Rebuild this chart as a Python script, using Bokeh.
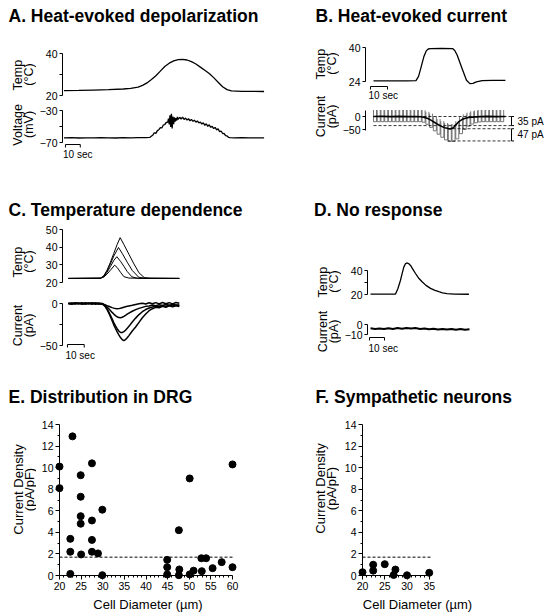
import math
from bokeh.plotting import figure
from bokeh.models import Range1d, LinearAxis, FixedTicker, Label, Grid
from bokeh.layouts import column, row
from bokeh.embed import file_html
from bokeh.resources import INLINE

FONT = "Liberation Sans"

# ---------------- data ----------------
# A. Heat-evoked depolarization (time in s)
a_temp_t = [0, 10, 20, 30, 40, 45, 50, 53, 56, 59, 62, 65, 68, 71, 74, 77, 80, 83, 86, 89,
            92, 95, 98, 101, 104, 107, 110, 113, 120, 135]
a_temp = [22.3, 22.4, 22.6, 22.8, 23.1, 23.4, 24.0, 24.8, 26.0, 27.6, 29.4, 31.6, 33.8, 35.4, 36.5,
          37.1, 37.2, 36.9, 36.1, 35.0, 33.5, 32.0, 30.5, 28.5, 26.3, 24.2, 22.8, 22.2, 22.0, 21.9]
a_volt_t = [0, 5, 10, 15, 20, 25, 30, 35, 40, 45, 50, 55, 58,
            60, 61, 62, 63, 64, 65, 66, 67, 68, 69, 70,
            70.5, 71, 71.5, 72, 72.5, 73, 73.5, 74, 74.5, 75, 75.5, 76, 76.5, 77,
            78, 79, 80, 81, 82, 83, 84, 85, 86, 87, 88, 89, 90, 91, 92, 93, 94, 95, 96, 97,
            98, 99, 100, 101, 102, 103, 104, 105, 106, 107, 108, 109, 110, 111, 112,
            115, 120, 125, 130, 135]
a_volt = [-64.3, -64.0, -64.4, -64.1, -64.3, -64.0, -64.2, -64.4, -63.9, -64.2, -64.0, -63.8, -63.5,
          -60.5, -57.8, -58.6, -55.2, -54.0, -51.5, -51.8, -48.2, -47.5, -45.0, -44.6,
          -40.2, -47.5, -36.0, -50.5, -34.0, -52.5, -37.5, -47.0, -38.5, -44.0, -39.5, -42.5, -38.0, -41.0,
          -38.5, -40.6, -38.4, -41.2, -39.5, -42.0, -40.3, -42.8, -41.2, -43.5, -42.2, -44.6, -43.0, -45.6,
          -44.4, -47.0, -45.3, -48.5, -46.6, -49.8, -47.9, -51.0, -49.8, -52.6, -51.2, -54.2, -52.8, -56.5,
          -55.6, -58.8, -58.6, -61.5, -61.8, -63.5, -63.9,
          -64.3, -64.0, -64.3, -64.1, -64.2]

# B. Heat-evoked current
b_temp_t = [0, 10, 20, 25, 26.5, 27.6, 29.6, 31.0, 32.2, 33.5, 40, 46.5, 47.8, 49.2, 52.2, 54.7,
            56.7, 58.5, 60.5, 63.9, 70, 77.6]
b_temp = [24.3, 24.3, 24.3, 24.4, 26.4, 29.6, 35.6, 38.4, 39.3, 39.5, 39.6, 39.5, 38.6, 36.5, 29.9,
          24.6, 23.0, 23.1, 23.8, 24.4, 24.5, 24.5]
b_cur_t = [0, 5, 10, 15, 20, 25, 28, 30, 32, 34, 36, 38, 40, 42, 44, 45.5, 47, 48.5, 50, 52, 54, 56,
           58, 60, 63, 67, 72, 77.6]
b_cur = [0, 0.5, -0.5, 0.4, -0.4, 0.2, -1, -3.5, -8, -15, -23, -31, -38, -43.5, -46.5, -47.5, -43,
         -32, -21, -12, -7, -4, -2.5, -1.5, -0.5, 0.4, -0.3, 0.2]
ramp_t = [0.0, 2.2, 4.4, 6.6, 8.8, 11.0, 13.2, 15.4, 17.6, 19.8, 22.0, 24.2, 26.4, 28.6, 30.8, 33.0,
          35.2, 37.4, 39.6, 41.8, 44.0, 46.2, 48.4, 50.6, 52.8, 55.0, 57.2, 59.4, 61.6, 63.8, 66.0,
          68.2, 70.4, 72.6, 74.8]
ramp_top = [25, 25, 25, 25, 25, 25, 25, 25, 25, 25, 25, 25, 25, 24, 18, 11, 0, -10, -18, -25, -30,
            -29, -18, -2, 8, 15, 20, 23, 25, 25, 25, 25, 25, 25, 25]
ramp_bot = [-20, -20, -20, -20, -20, -20, -20, -20, -20, -20, -20, -20, -20, -22, -30, -42, -55, -68,
            -80, -90, -96, -96, -86, -66, -50, -37, -29, -24, -21, -20, -20, -20, -20, -20, -20]
b_levels = [0, -35, -47, -94]
b_amp_labels = ["35 pA", "47 pA"]

# C. Temperature dependence
c_temp_t = [
    [0, 19, 21, 23, 25, 27.5, 29, 31, 33, 36, 50, 66],
    [0, 19, 21, 23, 25, 27, 28.8, 31, 33, 35, 37.8, 41, 66],
    [0, 19, 21, 23, 25, 27, 29.8, 32, 35, 38, 41.8, 45, 66],
    [0, 19, 21, 23, 25, 27, 29, 30.8, 33, 36, 39, 42, 45.1, 48, 66],
]
c_temp = [
    [22.3, 22.4, 23.0, 24.8, 27.0, 29.8, 28.5, 25.8, 23.3, 22.5, 22.3, 22.3],
    [22.3, 22.4, 23.3, 25.8, 29.0, 32.5, 34.6, 32.0, 29.2, 26.2, 23.2, 22.4, 22.3],
    [22.3, 22.4, 23.5, 26.5, 30.5, 35.0, 39.8, 36.5, 31.5, 26.8, 23.0, 22.4, 22.3],
    [22.3, 22.4, 23.7, 27.0, 31.5, 36.5, 41.5, 45.4, 41.5, 36.0, 30.5, 25.5, 22.8, 22.4, 22.3],
]
c_cur_t = [0, 2, 4, 6, 8, 10, 12, 14, 16, 18, 20, 21, 22, 23, 24, 25, 26, 27, 28, 29, 30, 31, 32,
           33, 34, 35, 36, 38, 40, 42, 44, 46, 48, 50, 52, 54, 56, 58, 60, 62, 64, 66]
c_cur = [
    [0.5, -0.8, 0.6, -0.4, 0.9, -0.6, 0.3, -0.9, 0.7, -0.5, 0.2, -0.8, -1.6, -2.5, -3.3, -4.2, -4.9,
     -5.5, -6.0, -6.3, -6.1, -5.6, -5.0, -4.4, -3.8, -3.3, -2.9, -2.2, -1.2, -0.4, 0.3, -0.6, 0.8,
     -0.3, 1.0, -0.5, 1.2, -0.2, 1.0, -0.4, 1.1, 0.2],
    [-0.3, 0.6, -0.7, 0.4, -0.5, 0.8, -0.4, 0.5, -0.8, 0.3, -0.6, -1.2, -2.5, -4.2, -6.2, -8.4, -10.6,
     -12.6, -14.4, -15.8, -16.8, -17.0, -16.4, -15.3, -14.0, -12.7, -11.4, -9.2, -7.3, -5.8, -4.6,
     -3.4, -3.0, -1.8, -2.6, -1.5, -2.4, -1.2, -2.2, -1.0, -2.0, -1.4],
    [0.2, -0.5, 0.8, -0.3, 0.4, -0.7, 0.6, -0.2, 0.5, -0.6, -0.3, -1.5, -3.5, -6.5, -10.0, -14.0,
     -18.3, -22.6, -26.6, -30.0, -32.8, -34.5, -34.6, -33.5, -31.8, -29.6, -27.2, -22.0, -17.4,
     -13.2, -9.8, -7.2, -5.4, -4.2, -3.0, -3.8, -2.4, -3.4, -2.0, -3.0, -1.8, -2.8],
    [-0.6, 0.3, -0.2, 0.7, -0.8, 0.4, -0.3, 0.8, -0.4, 0.6, -0.5, -1.8, -4.0, -7.2, -11.2, -15.8,
     -20.6, -25.4, -29.8, -33.8, -37.4, -40.6, -43.0, -44.2, -43.0, -40.8, -38.2, -32.8, -28.0,
     -22.5, -17.0, -12.5, -8.6, -6.2, -4.6, -5.2, -3.4, -4.4, -2.8, -4.0, -2.6, -3.6],
]

# D. No response
d_temp_t = [0, 10, 16.7, 18.3, 20, 21.2, 22.2, 23.2, 24.2, 25.4, 26.7, 28.3, 30, 32, 34.4, 37, 40,
            43, 45.6, 48, 51, 56, 65.6]
d_temp = [20.3, 20.3, 20.4, 25.0, 31.9, 38.0, 42.8, 45.5, 46.3, 45.8, 44.2, 41.0, 37.5, 33.8, 30.6,
          27.6, 25.1, 23.4, 22.3, 21.4, 20.7, 20.3, 20.2]
d_cur_t = [0, 3, 6, 9, 12, 15, 18, 21, 24, 27, 30, 33, 36, 39, 42, 45, 48, 51, 54, 57, 60, 63, 66]
d_cur = [-3.8, -4.5, -3.9, -4.6, -3.7, -4.4, -3.6, -4.3, -3.4, -4.1, -3.5, -4.4, -3.9, -4.8, -4.2,
         -5.0, -4.4, -5.1, -4.5, -5.2, -4.6, -5.3, -4.8]

# E. Distribution in DRG
e_diam = [20.0, 20.0, 22.5, 22.5, 22.5, 23.0, 24.9, 24.9, 24.9, 24.9, 25.0, 27.5, 27.5, 27.5, 27.5,
          28.9, 29.9, 29.9, 44.9, 44.9, 44.9, 47.6, 47.7, 47.6, 50.1, 50.1, 51.0, 52.8, 53.9, 52.9,
          55.4, 57.5, 60.0, 60.0]
e_dens = [10.1, 8.1, 3.4, 2.2, 0.15, 12.9, 9.3, 7.3, 5.5, 4.8, 1.95, 10.4, 5.1, 3.3, 2.2, 2.05,
          6.1, 0.03, 1.45, 0.77, 0.1, 4.2, 0.56, 0.03, 9.0, 0.1, 0.45, 1.6, 1.6, 0.4, 0.68, 1.24,
          10.3, 0.77]
# F. Sympathetic neurons
f_diam = [20.0, 22.4, 22.4, 25.0, 27.0, 27.4, 30.0, 35.0]
f_dens = [0.3, 1.0, 0.45, 1.05, 0.05, 0.55, 0.02, 0.25]
threshold = 1.7

e_xticks = [20, 25, 30, 35, 40, 45, 50, 55, 60]
f_xticks = [20, 25, 30, 35]
dens_ticks = [0, 2, 4, 6, 8, 10, 12, 14]
scale_len = 10  # seconds

# Helvetica/Arial advance widths (per 1000 em) used to centre the rotated labels
ADV = {" ": 278, "(": 333, ")": 333, "/": 278, "°": 400, "A": 667, "C": 722, "D": 722, "F": 611,
       "T": 611, "V": 667, "a": 556, "e": 556, "g": 556, "i": 222, "l": 222, "m": 833, "n": 556,
       "o": 556, "p": 556, "r": 333, "s": 500, "t": 278, "u": 556, "y": 500}


# ---------------- helpers ----------------
def lin(p1, v1, p2, v2):
    s = (v2 - v1) / (p2 - p1)
    return lambda p: v1 + (p - p1) * s


def base_fig(w, h, xr, yr, left=0, bottom=0, right=0):
    p = figure(width=w, height=h, x_range=xr, y_range=yr, output_backend="svg",
               toolbar_location=None, tools="", x_axis_location=None, y_axis_location=None,
               min_border_left=left, min_border_right=right, min_border_top=0,
               min_border_bottom=bottom, outline_line_color=None)
    p.center = [r for r in p.center if not isinstance(r, Grid)]
    p.background_fill_color = "white"
    p.border_fill_color = "white"
    return p


def panel_fig(x0, w, left, y0, h, xa, ya, bottom=0, right=0):
    """Data figure; xa/ya give two page-pixel anchors for the scales."""
    fx = lin(*xa)
    fy = lin(*ya)
    xr = Range1d(fx(x0 + left), fx(x0 + w - right))
    yr = Range1d(fy(y0 + h - bottom), fy(y0))
    return base_fig(w, h, xr, yr, left, bottom, right), fx, fy


def text_fig(x0, w, y0, h, bottom=0):
    """Figure whose frame coordinates are page pixels."""
    return base_fig(w, h, Range1d(x0, x0 + w), Range1d(y0 + h - bottom, y0), bottom=bottom)


def add_axis(p, side, ticks, bounds, minor=(), tick_out=3, minor_out=3, size="10.5px"):
    ax = LinearAxis(ticker=FixedTicker(ticks=list(ticks), minor_ticks=list(minor)), bounds=bounds)
    ax.axis_line_color = "black"
    ax.axis_line_width = 1
    ax.major_tick_line_color = "black"
    ax.minor_tick_line_color = "black"
    ax.major_tick_out = tick_out
    ax.major_tick_in = 0
    ax.minor_tick_out = minor_out
    ax.minor_tick_in = 0
    ax.major_label_standoff = 2
    ax.major_label_text_font = FONT
    ax.major_label_text_font_size = size
    ax.major_label_text_color = "black"
    p.add_layout(ax, side)
    return ax


def lab(p, x, y, text, size=12.5, bold=False, angle=0.0, align="left", baseline="top"):
    p.add_layout(Label(x=x, y=y, text=text, text_font=FONT, text_font_size=f"{size}px",
                       text_font_style="bold" if bold else "normal", angle=angle,
                       text_align=align, text_baseline=baseline, text_color="black"))


def vlabel(p, px1, px2, py, l1, l2, size=12.5):
    # rotated labels, started at their lower end so that they are centred on py
    for px, txt in ((px1, l1), (px2, l2)):
        w = sum(ADV.get(c, 556) for c in txt) * size / 1000.0
        lab(p, px, py + w / 2, txt, size=size, angle=math.pi / 2, align="left",
            baseline="middle")


def scalebar(p, fx, fy, px0, py, tpx, tpy):
    t0 = fx(px0)
    t1 = t0 + scale_len
    y_top = fy(py)
    y_bot = fy(py + 3)
    p.line([t0, t0, t1, t1], [y_bot, y_top, y_top, y_bot], line_color="black", line_width=1)
    lab(p, fx(tpx), fy(tpy), "10 sec", size=10, baseline="top")


LW = 1.3
TS = 17.5  # title font size

# ---------------- panel A ----------------
tA = text_fig(0, 313, 0, 28)
lab(tA, 8, 5, "A. Heat-evoked depolarization", size=TS, bold=True)
lA = text_fig(0, 36, 28, 162)
vlabel(lA, 17, 28, 74, "Temp", "(°C)")
vlabel(lA, 17, 28, 124, "Voltage", "(mV)")

A1, fxA1, fyA1 = panel_fig(36, 277, 23, 28, 73, (60.5, 0, 75.5, 10), (53, 40, 95, 20))
add_axis(A1, "left", [20, 40], (20, 40), minor=[30])
A1.line(a_temp_t, a_temp, line_color="black", line_width=LW)

A2, fxA2, fyA2 = panel_fig(36, 277, 23, 101, 89, (60.5, 0, 75.5, 10), (110, -30, 142, -70))
add_axis(A2, "left", [-70, -30], (-70, -30), minor=[-50])
A2.line(a_volt_t, a_volt, line_color="black", line_width=LW)
scalebar(A2, fxA2, fyA2, 62, 144, 59.5, 148)

# ---------------- panel B ----------------
tB = text_fig(313, 236, 0, 28)
lab(tB, 315, 5, "B. Heat-evoked current", size=TS, bold=True)
lB = text_fig(313, 26, 28, 162)
vlabel(lB, 320.5, 331, 63, "Temp", "(°C)")
vlabel(lB, 320.5, 331, 116, "Current", "(pA)")

B1, fxB1, fyB1 = panel_fig(339, 210, 26, 28, 74, (373, 0, 390, 10), (47, 40, 81, 24))
add_axis(B1, "left", [24, 40], (24, 40))
B1.line(b_temp_t, b_temp, line_color="black", line_width=LW)
scalebar(B1, fxB1, fyB1, 370, 86, 368, 89)

B2, fxB2, fyB2 = panel_fig(339, 210, 26, 102, 88, (373, 0, 390, 10), (116, 0, 129, -50))
add_axis(B2, "left", [-50, 0], (-55, 22))
ramp_w = fxB2(376) - fxB2(373)
B2.multi_line([[t, t, t + ramp_w, t + ramp_w] for t in ramp_t],
              [[tp, bt, bt, tp] for tp, bt in zip(ramp_top, ramp_bot)],
              line_color="#555555", line_width=0.8)
B2.line(b_cur_t, b_cur, line_color="black", line_width=1.6)
t_start = fxB2(373)
t_br = fxB2(511)
t_mid = fxB2(447)
B2.multi_line([[t_start, t_br], [t_start, t_br], [t_mid, t_br], [t_mid, t_br]],
              [[b_levels[0]] * 2, [b_levels[1]] * 2, [b_levels[2]] * 2, [b_levels[3]] * 2],
              line_color="black", line_width=0.8, line_dash="3 2")
bw = fxB2(513.5) - t_br
for lo, hi, txt in [(b_levels[1], b_levels[0], b_amp_labels[0]),
                    (b_levels[3], b_levels[2], b_amp_labels[1])]:
    B2.multi_line([[t_br, t_br], [t_br, t_br + bw], [t_br, t_br + bw]],
                  [[lo, hi], [lo, lo], [hi, hi]], line_color="black", line_width=1)
    lab(B2, fxB2(517), (lo + hi) / 2, txt, size=10, baseline="middle")

# ---------------- panel C ----------------
tC = text_fig(0, 313, 190, 32)
lab(tC, 8, 199.5, "C. Temperature dependence", size=TS, bold=True)
lC = text_fig(0, 36, 222, 158)
vlabel(lC, 17, 28, 261, "Temp", "(°C)")
vlabel(lC, 17, 28, 325, "Current", "(pA)")

C1, fxC1, fyC1 = panel_fig(36, 277, 23, 222, 70, (65, 0, 82, 10), (229, 50, 282, 20))
add_axis(C1, "left", [20, 30, 40, 50], (20, 50))
C1.multi_line(c_temp_t, c_temp, line_color="black", line_width=1)

C2, fxC2, fyC2 = panel_fig(36, 277, 23, 292, 88, (65, 0, 82, 10), (303, 0, 345, -50))
add_axis(C2, "left", [-50, 0], (-50, 0), minor=[-25])
C2.multi_line([c_cur_t] * len(c_cur), c_cur, line_color="black", line_width=1.5)
scalebar(C2, fxC2, fyC2, 64, 344, 62, 349)

# ---------------- panel D ----------------
tD = text_fig(313, 236, 190, 32)
lab(tD, 313.5, 199.5, "D. No response", size=TS, bold=True)
lD = text_fig(313, 28, 222, 158)
vlabel(lD, 322, 333, 281, "Temp", "(°C)")
vlabel(lD, 322, 333, 331, "Current", "(pA)")

D1, fxD1, fyD1 = panel_fig(341, 208, 26, 222, 88, (370, 0, 385, 10), (270, 40, 294, 20))
add_axis(D1, "left", [20, 40], (20, 40), minor=[30])
D1.line(d_temp_t, d_temp, line_color="black", line_width=LW)

D2, fxD2, fyD2 = panel_fig(341, 208, 26, 310, 70, (370, 0, 385, 10), (324, 0, 334, -10))
add_axis(D2, "left", [-10, 0], (-10, 0))
D2.line(d_cur_t, d_cur, line_color="black", line_width=2)
scalebar(D2, fxD2, fyD2, 369, 337, 368, 342)


# ---------------- panels E / F ----------------
def xlabel(ax):
    ax.axis_label = "Cell Diameter (µm)"
    ax.axis_label_text_font = FONT
    ax.axis_label_text_font_size = "13px"
    ax.axis_label_text_font_style = "normal"
    ax.axis_label_text_color = "black"
    ax.axis_label_standoff = 4


tE = text_fig(0, 313, 380, 27)
lab(tE, 8, 386.7, "E. Distribution in DRG", size=TS, bold=True)
lE = text_fig(0, 36, 407, 207, bottom=39)
vlabel(lE, 17.5, 29, 489, "Current Density", "(pA/pF)", size=13)

E, fxE, fyE = panel_fig(36, 277, 23, 407, 207, (59, 20, 232, 60), (424, 14, 575, 0),
                        bottom=39, right=77)
add_axis(E, "left", dens_ticks, (0, 14), minor=[1, 3, 5, 7, 9, 11, 13], tick_out=4, minor_out=2)
axE = add_axis(E, "below", e_xticks, (20, 60),
               minor=[v for v in range(20, 61) if v not in e_xticks], tick_out=4, minor_out=2)
xlabel(axE)
E.line([e_xticks[0], e_xticks[-1]], [threshold, threshold], line_color="black", line_width=1,
       line_dash="3 2")
E.scatter(e_diam, e_dens, size=7, color="black", level="overlay")

tF = text_fig(313, 236, 380, 27)
lab(tF, 315, 386.7, "F. Sympathetic neurons", size=TS, bold=True)
lF = text_fig(313, 26, 407, 207, bottom=39)
vlabel(lF, 319.5, 331, 488, "Current Density", "(pA/pF)", size=13)

F, fxF, fyF = panel_fig(339, 210, 23, 407, 207, (362, 20, 428.75, 35), (424, 14, 575, 0),
                        bottom=39, right=77)
add_axis(F, "left", dens_ticks, (0, 14), minor=[1, 3, 5, 7, 9, 11, 13], tick_out=4, minor_out=2)
axF = add_axis(F, "below", f_xticks, (20, 35),
               minor=[v for v in range(20, 36) if v not in f_xticks], tick_out=4, minor_out=2)
xlabel(axF)
F.line([f_xticks[0], fxF(432)], [threshold, threshold], line_color="black", line_width=1,
       line_dash="3 2")
F.scatter(f_diam, f_dens, size=7, color="black", level="overlay")

sp = dict(spacing=0)
layout = column(
    row(column(tA, row(lA, column(A1, A2, **sp), **sp), **sp),
        column(tB, row(lB, column(B1, B2, **sp), **sp), **sp), **sp),
    row(column(tC, row(lC, column(C1, C2, **sp), **sp), **sp),
        column(tD, row(lD, column(D1, D2, **sp), **sp), **sp), **sp),
    row(column(tE, row(lE, E, **sp), **sp),
        column(tF, row(lF, F, **sp), **sp), **sp),
    **sp,
)

open("out.html", "w").write(file_html(layout, INLINE, title="Heat-evoked responses"))
